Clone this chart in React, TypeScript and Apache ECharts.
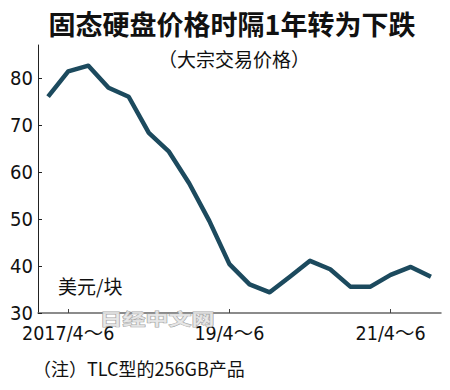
import React, { useEffect, useRef } from "react";
import * as echarts from "echarts";

const categories = [
  "2017/1～3", "2017/4～6", "2017/7～9", "2017/10～12",
  "2018/1～3", "2018/4～6", "2018/7～9", "2018/10～12",
  "2019/1～3", "2019/4～6", "2019/7～9", "2019/10～12",
  "2020/1～3", "2020/4～6", "2020/7～9", "2020/10～12",
  "2021/1～3", "2021/4～6", "2021/7～9", "2021/10～12",
];
const prices = [
  76.0, 81.4, 82.6, 77.9, 76.0, 68.3, 64.3, 57.6, 49.6, 40.4,
  36.1, 34.4, 37.7, 41.1, 39.3, 35.6, 35.6, 38.1, 39.8, 37.7,
];
const xTickIndices = [1, 9, 17];
const xTickLabels = ["2017/4～6", "19/4～6", "21/4～6"];
const yTicks = [30, 40, 50, 60, 70, 80];

const title = "固态硬盘价格时隔1年转为下跌";
const subtitle = "（大宗交易价格）";
const unitLabel = "美元/块";
const note = "（注）TLC型的256GB产品";
const watermark = "日经中文网";

const CJK = "'Noto Sans CJK SC', sans-serif";
const NARROW = "'Liberation Sans Narrow', 'DejaVu Sans Condensed', 'Liberation Sans', 'Noto Sans CJK SC', sans-serif";

export default function App() {
  const ref = useRef<HTMLDivElement>(null);
  useEffect(() => {
    if (!ref.current) return;
    const chart = echarts.init(ref.current, null, { renderer: "svg" });
    const showIdx = (i: number) => xTickIndices.indexOf(i) >= 0;
    chart.setOption({
      animation: false,
      backgroundColor: "#ffffff",
      grid: { left: 38, right: 9, top: 45, bottom: 77, containLabel: false },
      xAxis: {
        type: "category",
        data: categories,
        boundaryGap: true,
        axisLine: { show: true, lineStyle: { color: "#666666", width: 1.5 } },
        axisTick: {
          show: true,
          inside: true,
          length: 4,
          alignWithLabel: true,
          interval: (i: number) => showIdx(i),
          lineStyle: { color: "#444444" },
        },
        axisLabel: {
          interval: (i: number) => showIdx(i),
          formatter: (_v: string, i: number) => {
            const k = xTickIndices.indexOf(i);
            return k >= 0 ? xTickLabels[k] : "";
          },
          color: "#111111",
          fontFamily: NARROW,
          fontSize: 19.5,
          margin: 11,
        },
        splitLine: { show: false },
      },
      yAxis: {
        type: "value",
        min: 30,
        max: 87,
        axisLine: { show: true, lineStyle: { color: "#222222", width: 1 } },
        axisTick: {
          show: true,
          inside: true,
          length: 4,
          customValues: yTicks,
          lineStyle: { color: "#222222" },
        },
        axisLabel: {
          customValues: yTicks,
          color: "#111111",
          fontFamily: NARROW,
          fontSize: 20,
          margin: 5,
        },
        splitLine: { show: false },
      },
      series: [
        {
          type: "line",
          data: prices,
          symbol: "none",
          lineStyle: { color: "#1c4a5e", width: 4.5, join: "round" },
        },
      ],
      graphic: [
        {
          type: "text",
          x: 232,
          y: 23,
          style: {
            text: title,
            fontFamily: CJK,
            fontSize: 27,
            fontWeight: "bold",
            fill: "#111111",
            align: "center",
            verticalAlign: "middle",
          },
        },
        {
          type: "text",
          x: 234,
          y: 58,
          style: {
            text: subtitle,
            fontFamily: CJK,
            fontSize: 19,
            fill: "#111111",
            align: "center",
            verticalAlign: "middle",
          },
        },
        {
          type: "text",
          x: 58,
          y: 285,
          style: {
            text: unitLabel,
            fontFamily: CJK,
            fontSize: 19,
            fill: "#111111",
            align: "left",
            verticalAlign: "middle",
          },
        },
        {
          type: "text",
          x: 33,
          y: 368,
          style: {
            text: note,
            fontFamily: CJK,
            fontSize: 18,
            fill: "#111111",
            align: "left",
            verticalAlign: "middle",
          },
        },
        {
          type: "text",
          x: 157,
          y: 318,
          scaleX: 1.44,
          z: 100,
          style: {
            text: watermark,
            fontFamily: CJK,
            fontSize: 16,
            fontWeight: "bold",
            fill: "#e6e6e6",
            stroke: "#9a9a9a",
            lineWidth: 1,
            align: "center",
            verticalAlign: "middle",
            opacity: 0.9,
          },
        },
      ],
    });
    return () => chart.dispose();
  }, []);
  return (
    <div
      ref={ref}
      style={{ position: "fixed", left: 0, top: 0, width: 450, height: 390 }}
    />
  );
}
